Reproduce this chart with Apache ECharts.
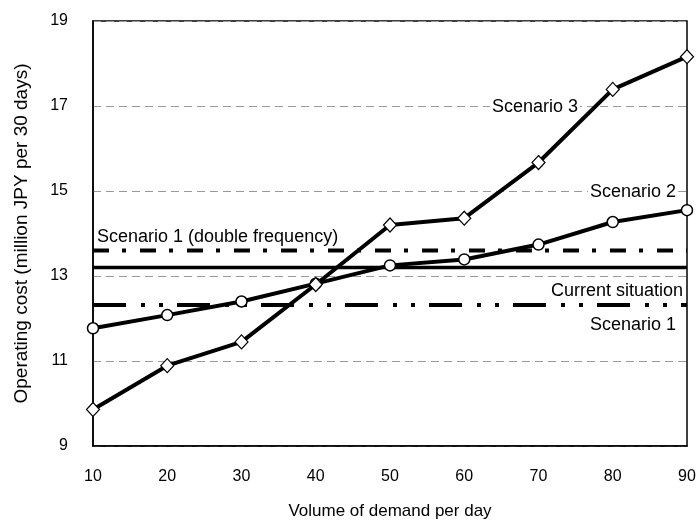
<!DOCTYPE html>
<html>
<head>
<meta charset="utf-8">
<script src="https://cdn.jsdelivr.net/npm/echarts@6/dist/echarts.min.js"></script>
<style>html,body{margin:0;padding:0;background:#fff;}#c{width:700px;height:525px;}</style>
</head>
<body>
<div id="c"></div>
<script>
const demand = [10, 20, 30, 40, 50, 60, 70, 80, 90];
const scenario3 = [9.86, 10.89, 11.45, 12.80, 14.20, 14.36, 15.67, 17.39, 18.16];
const scenario2 = [11.77, 12.08, 12.40, 12.82, 13.25, 13.39, 13.74, 14.27, 14.55];
const scenario1Double = 13.60;
const currentSituation = 13.20;
const scenario1 = 12.32;
const yTicks = [9, 11, 13, 15, 17, 19];

const FONT = '"Liberation Sans", Arial, sans-serif';
const chart = echarts.init(document.getElementById('c'), null, {renderer: 'canvas'});

function pairs(xs, ys) { return xs.map((x, i) => [x, ys[i]]); }
function flat(v) { return [[demand[0], v], [demand[demand.length - 1], v]]; }

const option = {
  animation: false,
  backgroundColor: '#fff',
  grid: {left: 93, right: 13, top: 21, bottom: 76, show: true, borderColor: '#000', borderWidth: 1.5, backgroundColor: 'transparent'},
  xAxis: {
    type: 'value', min: 10, max: 90, interval: 10,
    name: 'Volume of demand per day', nameLocation: 'middle', nameGap: 57,
    nameTextStyle: {fontFamily: FONT, fontSize: 17, color: '#000'},
    axisLine: {lineStyle: {color: '#000', width: 1.5}},
    axisTick: {show: false},
    axisLabel: {fontFamily: FONT, fontSize: 16, color: '#000', margin: 23},
    splitLine: {show: false}
  },
  yAxis: {
    type: 'value', min: 9, max: 19, interval: 2,
    name: 'Operating cost (million JPY per 30 days)', nameLocation: 'middle', nameGap: 62,
    nameTextStyle: {fontFamily: FONT, fontSize: 19, color: '#000'},
    axisLine: {show: true, lineStyle: {color: '#000', width: 1.5}},
    axisTick: {show: false},
    axisLabel: {fontFamily: FONT, fontSize: 16, color: '#000', margin: 25,
      formatter: v => yTicks.includes(v) ? String(v) : ''},
    splitLine: {show: true, lineStyle: {color: '#999', type: [8, 5], width: 1}}
  },
  series: [
    {type: 'line', data: flat(scenario1Double), symbol: 'none', silent: true,
      lineStyle: {color: '#000', width: 4, type: [16, 13, 4, 14], cap: 'butt'}},
    {type: 'line', data: flat(currentSituation), symbol: 'none', silent: true,
      lineStyle: {color: '#000', width: 3.5}},
    {type: 'line', data: flat(scenario1), symbol: 'none', silent: true,
      lineStyle: {color: '#000', width: 4, type: [33, 15, 4, 14, 4, 14], cap: 'butt'}},
    {type: 'line', data: pairs(demand, scenario2), symbol: 'circle', symbolSize: 11,
      showAllSymbol: true,
      lineStyle: {color: '#000', width: 4},
      itemStyle: {color: '#fff', borderColor: '#000', borderWidth: 1.5}},
    {type: 'line', data: pairs(demand, scenario3), symbol: 'diamond', symbolSize: [13, 14],
      showAllSymbol: true,
      lineStyle: {color: '#000', width: 4},
      itemStyle: {color: '#fff', borderColor: '#000', borderWidth: 1.2}}
  ],
  graphic: [
    {type: 'text', left: 490, top: 98, z: 100, style: {text: 'Scenario 3', font: '18px ' + FONT, fill: '#000', backgroundColor: '#fff', padding: [0, 2]}},
    {type: 'text', left: 588, top: 183, z: 100, style: {text: 'Scenario 2', font: '18px ' + FONT, fill: '#000', backgroundColor: '#fff', padding: [0, 2]}},
    {type: 'text', left: 97, top: 228, z: 100, style: {text: 'Scenario 1 (double frequency)', font: '18px ' + FONT, fill: '#000'}},
    {type: 'text', left: 550, top: 282, z: 100, style: {text: 'Current situation', font: '18px ' + FONT, fill: '#000', backgroundColor: '#fff', padding: [0, 1]}},
    {type: 'text', left: 590, top: 316, z: 100, style: {text: 'Scenario 1', font: '18px ' + FONT, fill: '#000'}}
  ]
};
chart.setOption(option);
</script>
</body>
</html>
